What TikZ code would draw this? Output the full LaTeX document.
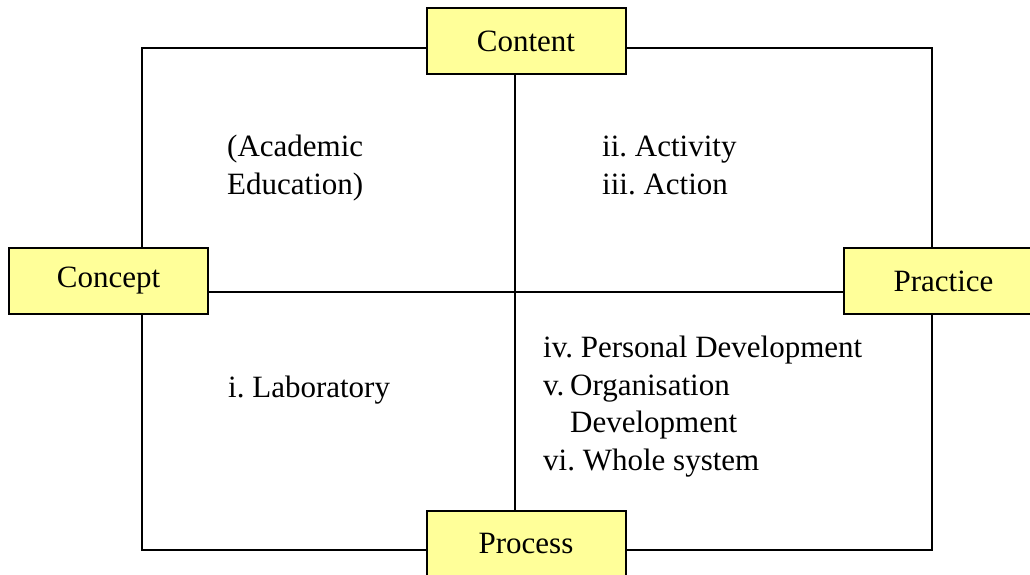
\documentclass[tikz,border=0pt]{standalone}
\usepackage{fontspec}
\setmainfont{Liberation Serif}
\usepackage{tikz}
\usetikzlibrary{calc,positioning}
\definecolor{boxyellow}{RGB}{255,255,153}
\frenchspacing
\tikzset{
  corner/.style={draw=black,fill=boxyellow,line width=2pt,minimum width=199pt,minimum height=66pt,inner sep=0pt},
  quad/.style={align=left,anchor=base west,inner sep=0pt},
  wire/.style={line width=2pt}
}

\begin{document}
\begin{tikzpicture}[x=1pt,y=1pt,font=\fontsize{31}{37.5}\selectfont]
    \useasboundingbox (0,0) rectangle (1030,574);
    %% Define constants
    \def\xl{142}
    \def\xm{515}
    \def\xr{932}
    \def\yt{526}
    \def\ym{282}
    \def\yb{24}
    %% Locate important points
    \coordinate (TL) at (\xl, \yt);
    \coordinate (TR) at (\xr, \yt);
    \coordinate (BL) at (\xl, \yb);
    \coordinate (BR) at (\xr, \yb);
    \coordinate (MID) at (\xm, \ym);
    %% Draw the four boxes
    \node[corner] (content) at (526, 532.5) {Content};
    \node[corner] (concept) at (108.5, 293) {Concept};
    \node[corner] (practice) at (943.5, 293) {Practice};
    \node[corner] (process) at (526, 30.5) {Process};
    %% Outer frame
    \draw[wire] (concept.north -| TL) -- (TL) -- (content.west |- TL);
    \draw[wire] (content.east |- TR) -- (TR) -- (practice.north -| TR);
    \draw[wire] (concept.south -| BL) -- (BL) -- (process.west |- BL);
    \draw[wire] (process.east |- BR) -- (BR) -- (practice.south -| BR);
    %% Central cross
    \draw[wire] (content.south -| MID) -- (process.north -| MID);
    \draw[wire] (concept.east |- MID) -- (practice.west |- MID);
    %% Quadrant texts (base = last line)
    \node[quad] (academic) at (227, 380) {(Academic\\Education)};
    \node[quad] (activity) at (602, 380) {ii. Activity\\iii. Action};
    \node[quad] (laboratory) at (228, 177) {i. Laboratory};
    \node[quad] (development) at (543, 104) {iv. Personal Development\\\makebox[27pt][l]{v.}Organisation\\\hspace*{27pt}Development\\vi. Whole system};
  \end{tikzpicture}
\end{document}
